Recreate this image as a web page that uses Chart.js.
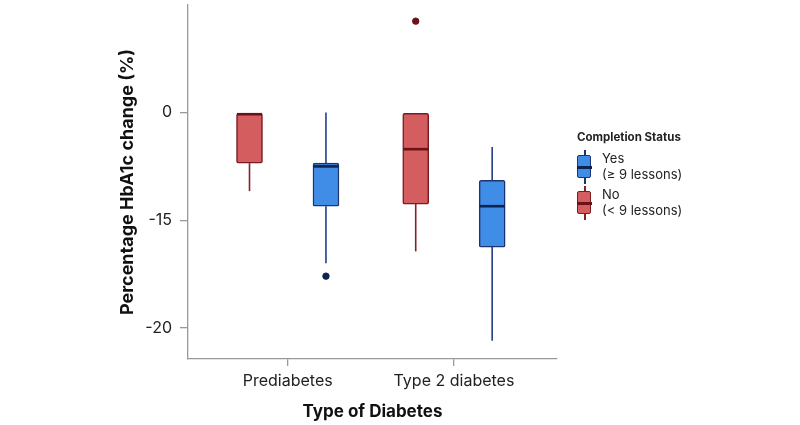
<!DOCTYPE html>
<html>
<head>
<meta charset="utf-8">
<script src="https://cdn.jsdelivr.net/npm/chart.js@4.4.0/dist/chart.umd.min.js"></script>
<style>
  html, body { margin: 0; padding: 0; background: #fff; }
  #wrap { position: relative; width: 800px; height: 425px; }
  #legend { position: absolute; left: 577px; top: 130px; width: 160px; font-family: Inter, "Noto Sans", sans-serif; color: #222; white-space: nowrap; }
  #legend .title { font-weight: 700; font-size: 11.5px; margin-bottom: 6px; }
  #legend .item { position: relative; height: 36px; }
  #legend .txt { position: absolute; left: 25px; top: 0px; font-size: 13px; line-height: 16px; }
  .glyph { position: absolute; left: 0; top: 0; width: 15px; height: 34px; }
  .glyph .wh { position: absolute; left: 7px; top: 0; width: 1.5px; height: 34px; }
  .glyph .bx { position: absolute; left: 0; top: 5px; width: 12px; height: 21px; border-radius: 2px; border: 1.5px solid; }
  .glyph .md { position: absolute; left: 0; top: 16px; width: 15px; height: 2.5px; }
</style>
</head>
<body>
<div id="wrap">
  <canvas id="chart" width="800" height="425"></canvas>
  <div id="legend">
    <div class="title">Completion Status</div>
    <div class="item">
      <div class="glyph"><div class="wh" style="background:#1d3570"></div><div class="bx" style="background:#3f8de6;border-color:#1d3570"></div><div class="md" style="background:#0d2350"></div></div>
      <div class="txt">Yes<br>(≥ 9 lessons)</div>
    </div>
    <div class="item">
      <div class="glyph"><div class="wh" style="background:#8a1f27"></div><div class="bx" style="background:#d35d5f;border-color:#7a1a22"></div><div class="md" style="background:#6a1218"></div></div>
      <div class="txt">No<br>(&lt; 9 lessons)</div>
    </div>
  </div>
</div>
<script>
// categories and tick labels
var categories = ['Prediabetes', 'Type 2 diabetes'];
var yTickValues = [0, -10, -20];
var yTickLabels = ['0', '-15', '-20'];

// Completion: Yes (>= 9 lessons)
var yesMin = [-14.0, -21.2];
var yesQ1 = [-8.7, -12.5];
var yesMedian = [-5.0, -8.7];
var yesQ3 = [-4.7, -6.3];
var yesMax = [0, -3.2];
var yesOutliers = [[-15.2], []];

// Completion: No (< 9 lessons)
var noMin = [-7.3, -12.9];
var noQ1 = [-4.7, -8.5];
var noMedian = [-0.15, -3.4];
var noQ3 = [0, 0];
var noMax = [0, 0];
var noOutliers = [[], [8.5]];

var shift = 0.23; // side-by-side offset inside a category

var groups = [
  { name: 'No', off: -shift, min: noMin, q1: noQ1, med: noMedian, q3: noQ3, max: noMax, out: noOutliers,
    fill: '#d35d5f', border: '#7a1a22', whisker: '#8a1f27', median: '#6a1218', dot: '#6a1218' },
  { name: 'Yes', off: shift, min: yesMin, q1: yesQ1, med: yesMedian, q3: yesQ3, max: yesMax, out: yesOutliers,
    fill: '#3f8de6', border: '#1d3570', whisker: '#233f8a', median: '#0d2350', dot: '#0d2350' }
];

var datasets = [];
groups.forEach(function (g) {
  datasets.push({
    type: 'bar',
    label: g.name,
    data: categories.map(function (c, i) { return { x: i + g.off, y: [g.q1[i], g.q3[i]] }; }),
    backgroundColor: g.fill,
    borderColor: g.border,
    borderWidth: 1.5,
    borderRadius: 2,
    borderSkipped: false,
    barThickness: 26,
    grouped: false,
    order: 2
  });
});
groups.forEach(function (g) {
  var pts = [];
  g.out.forEach(function (arr, i) { arr.forEach(function (v) { pts.push({ x: i + g.off, y: v }); }); });
  datasets.push({
    type: 'scatter',
    label: g.name + ' outliers',
    data: pts,
    backgroundColor: g.dot,
    borderColor: g.dot,
    pointRadius: 3.2,
    order: 1
  });
});

// whiskers under the boxes, medians on top
var boxPlotParts = {
  id: 'boxPlotParts',
  beforeDatasetsDraw: function (chart) {
    var ctx = chart.ctx, xs = chart.scales.x, ys = chart.scales.y;
    ctx.save();
    groups.forEach(function (g) {
      ctx.strokeStyle = g.whisker;
      ctx.lineWidth = 1.6;
      categories.forEach(function (c, i) {
        var x = xs.getPixelForValue(i + g.off);
        ctx.beginPath();
        ctx.moveTo(x, ys.getPixelForValue(g.max[i]));
        ctx.lineTo(x, ys.getPixelForValue(g.q3[i]));
        ctx.moveTo(x, ys.getPixelForValue(g.q1[i]));
        ctx.lineTo(x, ys.getPixelForValue(g.min[i]));
        ctx.stroke();
      });
    });
    ctx.restore();
  },
  afterDatasetsDraw: function (chart) {
    var ctx = chart.ctx, xs = chart.scales.x, ys = chart.scales.y;
    ctx.save();
    groups.forEach(function (g) {
      ctx.strokeStyle = g.median;
      ctx.lineWidth = 2.6;
      categories.forEach(function (c, i) {
        var x = xs.getPixelForValue(i + g.off);
        var y = ys.getPixelForValue(g.med[i]);
        ctx.beginPath();
        ctx.moveTo(x - 12.5, y);
        ctx.lineTo(x + 12.5, y);
        ctx.stroke();
      });
    });
    ctx.restore();
  }
};

var ctx = document.getElementById('chart').getContext('2d');
new Chart(ctx, {
  type: 'bar',
  data: { datasets: datasets },
  plugins: [boxPlotParts],
  options: {
    responsive: false,
    animation: false,
    layout: { padding: { left: 113, right: 243, top: 2, bottom: 0 } },
    plugins: { legend: { display: false }, tooltip: { enabled: false } },
    scales: {
      x: {
        type: 'linear',
        offset: false,
        min: -0.6,
        max: 1.62,
        afterBuildTicks: function (s) { s.ticks = categories.map(function (c, i) { return { value: i }; }); },
        afterFit: function (s) { s.height = 66; s.paddingLeft = 0; s.paddingRight = 0; },
        ticks: {
          callback: function (v) { return categories[v]; },
          font: { family: 'Inter', size: 16 },
          color: '#222',
          padding: 6,
          maxRotation: 0,
          autoSkip: false
        },
        grid: { drawOnChartArea: false, drawTicks: true, tickLength: 7, color: '#999', lineWidth: 1.3, offset: false },
        border: { display: true, color: '#999', width: 1.3 },
        title: {
          display: true,
          text: 'Type of Diabetes',
          font: { family: 'Inter', size: 17, weight: 'bold' },
          color: '#111',
          padding: { top: 4, bottom: 3 }
        }
      },
      y: {
        min: -22.9,
        max: 10,
        afterBuildTicks: function (s) { s.ticks = yTickValues.map(function (v) { return { value: v }; }); },
        afterFit: function (s) { s.width = 75; s.paddingTop = 0; s.paddingBottom = 0; },
        ticks: {
          callback: function (v) { return yTickLabels[yTickValues.indexOf(v)]; },
          font: { family: 'Inter', size: 16 },
          color: '#222',
          padding: 8
        },
        grid: { drawOnChartArea: false, drawTicks: true, tickLength: 8, color: '#999', lineWidth: 1.3 },
        border: { display: true, color: '#999', width: 1.3 },
        title: {
          display: true,
          text: 'Percentage HbA1c change (%)',
          font: { family: 'Inter', size: 18, weight: 'bold' },
          color: '#111',
          padding: { top: 4, bottom: 4 }
        }
      }
    }
  }
});
</script>
</body>
</html>
